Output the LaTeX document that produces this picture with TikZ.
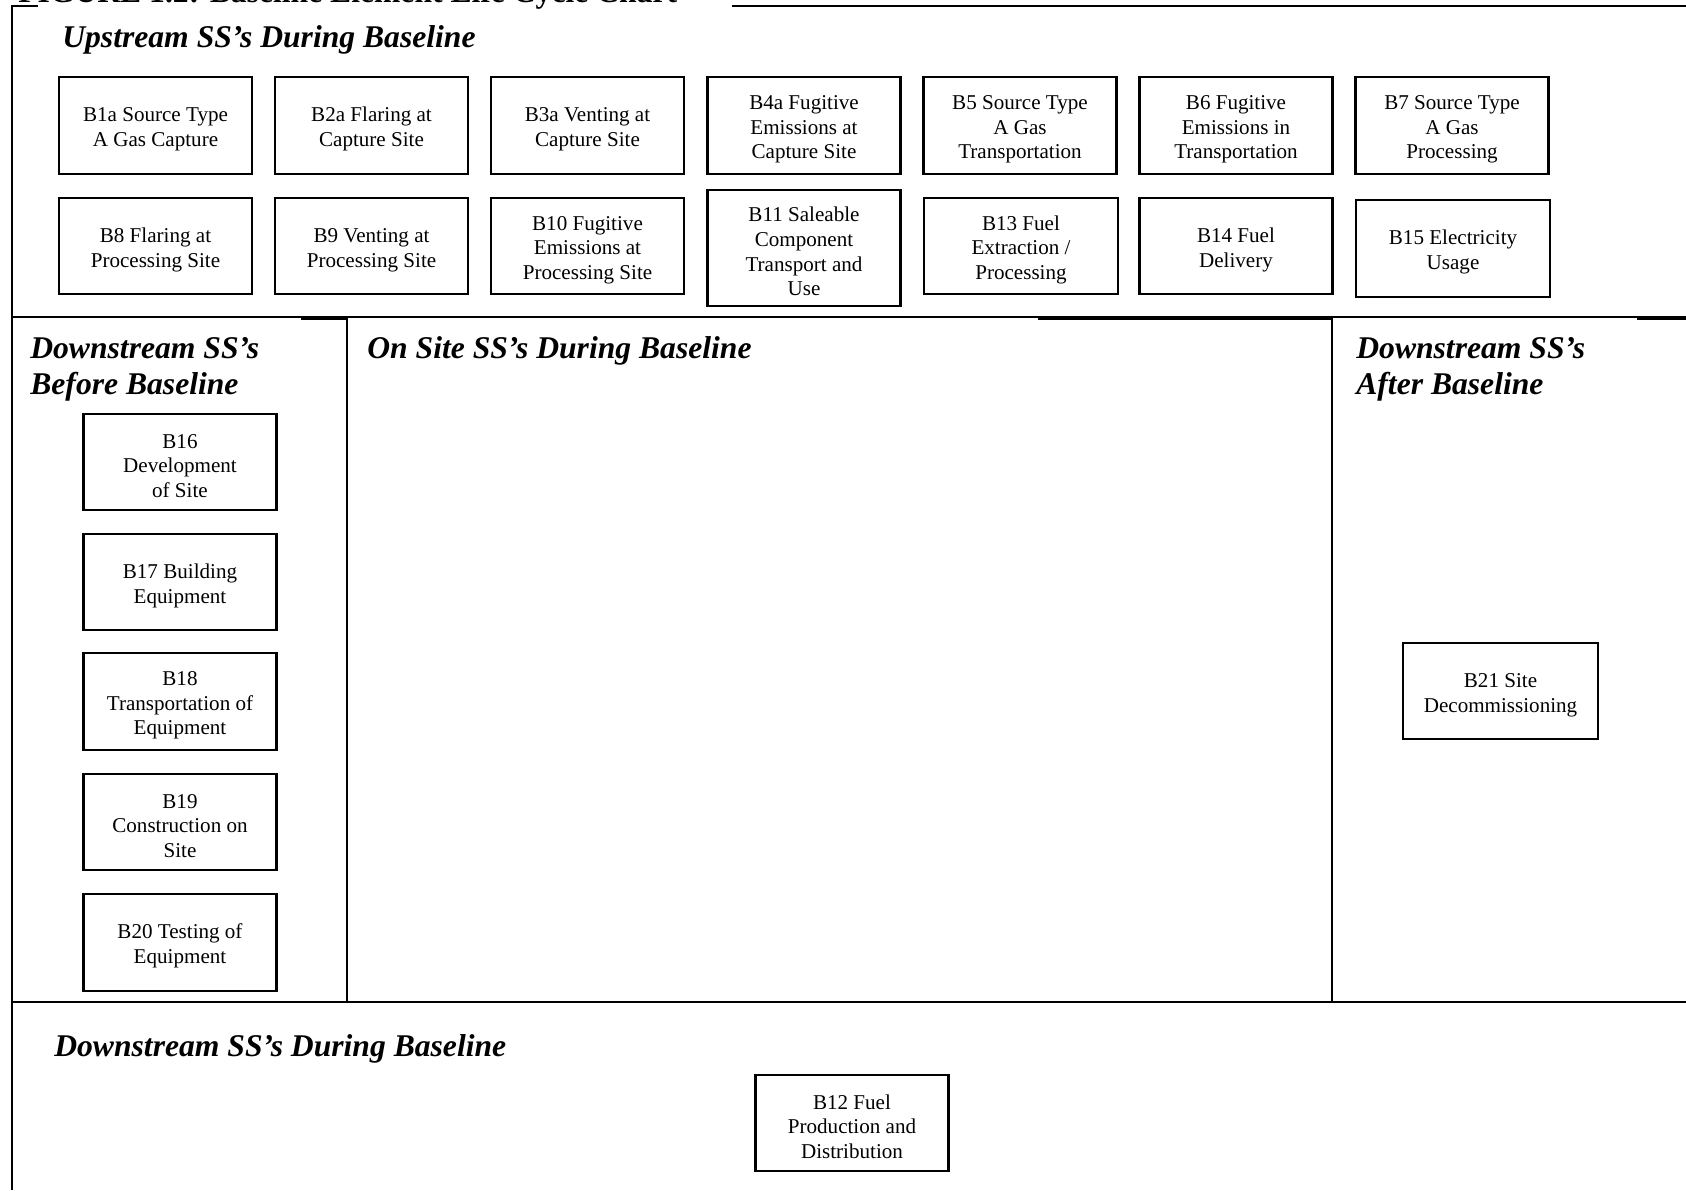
\documentclass[tikz,border=0pt]{standalone}
\usepackage{fontspec}
\setmainfont{Liberation Serif}
\newcommand{\sstop}{\rule{0pt}{12.5pt}}

\begin{document}
\begin{tikzpicture}[x=0.02cm,y=-0.02cm,
    ssbox/.style={draw,line width=1.3pt,align=center,inner sep=0pt,
        minimum width=3.86cm,minimum height=1.93cm,
        font=\fontsize{12}{14}\selectfont},
    sshead/.style={anchor=west,align=left,inner sep=0pt,
        font=\fontsize{18}{20.7}\selectfont\bfseries\itshape},
    frame/.style={line width=1.2pt}]
    \useasboundingbox (0,0) rectangle (1686,1190);
    \clip (0,0) rectangle (1686,1190);
    % title, cut off at the top
    \node[anchor=base west,inner sep=0pt,font=\fontsize{18}{20}\selectfont\bfseries] (title) at (18,3) {FIGURE 1.2: Baseline Element Life Cycle Chart};
    % frame
    \draw[frame] (12,1190)--(12,6)--(38,6);
    \draw[line width=1.5pt] (732,6)--(1686,6);
    \draw[line width=0.8pt] (12,317)--(1686,317);
    \draw[frame] (301,319)--(347,319);
    \draw[frame] (1038,319)--(1333,319);
    \draw[frame] (1637,319)--(1686,319);
    \draw[line width=1.1pt] (347,317)--(347,1002);
    \draw[line width=1.1pt] (1332,317)--(1332,1002);
    \draw[line width=1.6pt] (12,1002)--(1686,1002);
    % headings
    \node[sshead] (hup) at (62,39.5) {Upstream SS’s During Baseline};
    \node[sshead] (hbefore) at (30,369.5) {Downstream SS’s\\Before Baseline};
    \node[sshead] (honsite) at (367,351) {On Site SS’s During Baseline};
    \node[sshead] (hafter) at (1356,369.5) {Downstream SS’s\\After Baseline};
    \node[sshead] (hduring) at (54,1049) {Downstream SS’s During Baseline};
    % upstream, first row
    \node[ssbox] (b1a) at (155.5,125.5) {\sstop B1a Source Type\\A Gas Capture};
    \node[ssbox] (b2a) at (371.5,125.5) {\sstop B2a Flaring at\\Capture Site};
    \node[ssbox] (b3a) at (587.5,125.5) {\sstop B3a Venting at\\Capture Site};
    \node[ssbox] (b4a) at (804,125.5) {\sstop B4a Fugitive\\Emissions at\\Capture Site};
    \node[ssbox] (b5) at (1020,125.5) {\sstop B5 Source Type\\A Gas\\Transportation};
    \node[ssbox] (b6) at (1236,125.5) {\sstop B6 Fugitive\\Emissions in\\Transportation};
    \node[ssbox] (b7) at (1452,125.5) {\sstop B7 Source Type\\A Gas\\Processing};
    % upstream, second row
    \node[ssbox] (b8) at (155.5,246) {\sstop B8 Flaring at\\Processing Site};
    \node[ssbox] (b9) at (371.5,246) {\sstop B9 Venting at\\Processing Site};
    \node[ssbox] (b10) at (587.5,246) {\sstop B10 Fugitive\\Emissions at\\Processing Site};
    \node[ssbox,minimum height=2.32cm] (b11) at (804,248) {\sstop B11 Saleable\\Component\\Transport and\\Use};
    \node[ssbox,minimum width=3.88cm] (b13) at (1021,246) {\sstop B13 Fuel\\Extraction /\\Processing};
    \node[ssbox] (b14) at (1236,246) {\sstop B14 Fuel\\Delivery};
    \node[ssbox,minimum width=3.88cm] (b15) at (1453,248.5) {\sstop B15 Electricity\\Usage};
    % before baseline
    \node[ssbox] (b16) at (180,462) {\sstop B16\\Development\\of Site};
    \node[ssbox] (b17) at (180,582) {\sstop B17 Building\\Equipment};
    \node[ssbox] (b18) at (180,701.5) {\sstop B18\\Transportation of\\Equipment};
    \node[ssbox] (b19) at (180,822) {\sstop B19\\Construction on\\Site};
    \node[ssbox] (b20) at (180,942.5) {\sstop B20 Testing of\\Equipment};
    % after baseline
    \node[ssbox,minimum width=3.9cm] (b21) at (1500.5,691) {\sstop B21 Site\\Decommissioning};
    % downstream during baseline
    \node[ssbox] (b12) at (852,1123) {\sstop B12 Fuel\\Production and\\Distribution};
\end{tikzpicture}
\end{document}
